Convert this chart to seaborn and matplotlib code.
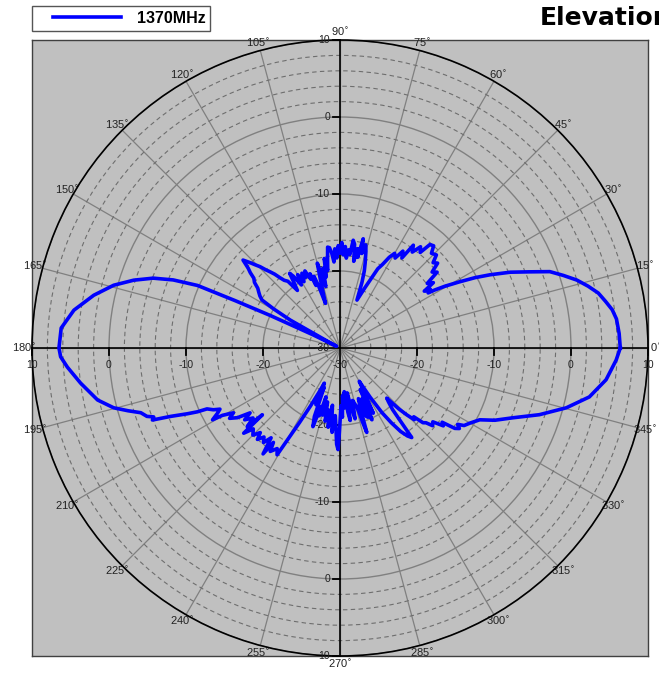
import numpy as np
import pandas as pd
import matplotlib.pyplot as plt
import seaborn as sns
from matplotlib.ticker import MultipleLocator
from matplotlib.legend_handler import HandlerLine2D

# Diagrama de radiação (elevação) - 1370 MHz
angulos = [0, 3, 6, 8, 10, 12, 14, 16, 18, 20, 22, 24, 26, 27.5, 29, 30.5, 31.5, 32,
           33, 34, 35, 36.5, 38, 39.5, 41, 42.5, 44, 46, 47.5, 49, 50, 51.5, 53, 54.5,
           55.5, 57, 58.5, 60, 61.5, 63, 64.5, 66, 67.5, 69, 70.5, 71.5, 72.5, 73.5, 75,
           76, 77, 78, 79, 80, 81, 82, 83, 84, 85, 86, 87, 88, 89, 90, 91, 92, 93, 94,
           95, 96, 97, 98, 99, 100, 101, 102, 103, 104, 105, 106, 107, 108, 109, 110,
           111, 112, 113, 114.5, 116, 117, 118.5, 120, 121.5, 123, 124, 125, 126.5, 128,
           129.5, 130.5, 131.5, 132.5, 133.5, 134.5, 135.5, 136.5, 137.8, 139, 140, 141,
           142.5, 144, 145.5, 147, 148.4, 149.5, 150.7, 152, 153, 154, 155, 155.7, 156.3,
           157.8, 159.5, 161.8, 164.5, 167.9, 171.9, 175.9, 180, 181.8, 184, 187.7, 192.1,
           194.8, 196.5, 198, 199.5, 200.3, 201, 202, 202.7, 203.3, 204.1, 204.6, 206,
           207, 208, 209.4, 209.8, 211.3, 212.5, 214.2, 215.8, 217, 218.8, 220.3, 220.7,
           221.5, 223, 225, 226.7, 227.9, 229.5, 231, 232.5, 234, 234.8, 236, 238, 239.5,
           240.3, 241.5, 243, 244.5, 246, 247, 248, 249.5, 251, 252, 253, 254, 255.5, 257,
           258.5, 260, 261.5, 262.5, 263.5, 264.6, 266, 267, 268, 268.9, 269.5, 270, 271,
           272, 273, 274, 275.5, 277, 278, 279, 280.5, 282, 283.5, 285, 286, 287, 287.6,
           288.5, 290, 291, 292, 293, 294, 295, 296, 297, 298.5, 300, 301.5, 303, 304.5,
           306, 307.5, 308.7, 309.5, 310.5, 312, 313, 314, 315, 316, 317, 318, 319, 320,
           321.5, 323, 324, 325, 326, 327, 328, 330, 332.8, 335, 338, 341.5, 345.2, 348.9,
           353.2, 357.5, 360]
ganho_db = [6.4, 6.3, 6.1, 5.7, 5.0, 4.3, 3.2, 2.0, 0.5, -1.0, -3.6, -5.8, -8.3, -10.2,
            -12.3, -14.2, -15.6, -16.5,
            -16.0, -16.8, -15.2, -15.9, -14.0, -14.5, -13.2, -13.6, -12.6, -12.9, -12.0,
            -12.2, -13.8, -13.2, -14.4, -13.6,
            -15.8, -15.0, -16.3, -15.8, -16.6, -17.8, -18.6, -20.3, -21.5, -22.6, -23.4,
            -21.0, -19.5, -18.5, -17.0,
            -16.2, -17.4, -15.5, -18.0, -16.9, -18.6, -16.4, -15.9, -17.8, -17.2, -18.3,
            -16.8, -17.9, -16.3, -17.7, -16.7, -18.3, -17.1, -18.8,
            -17.6, -16.9, -16.8, -18.4, -19.8, -18.2, -20.6, -19.4, -21.8, -20.2, -18.6,
            -20.8, -22.6, -23.9, -21.5, -20.1,
            -21.3, -19.6, -20.3, -19.0, -19.8, -19.1, -20.2, -19.0, -20.4, -18.9, -18.3,
            -19.5, -20.7, -19.0,
            -18.6, -18.0, -17.2, -16.6, -16.0, -15.2, -14.6, -13.9, -13.0, -14.2, -14.8,
            -15.6,
            -16.0, -16.8, -17.2, -17.6, -18.1, -20.0, -22.6, -28.5, -29.5, -26.0, -20.0,
            -15.0, -9.8,
            -6.6, -4.1, -1.8, 0.5, 2.7, 4.9, 6.3, 6.5, 6.3, 5.5, 4.0, 2.2,
            0.4, -1.3, -2.8, -3.4, -4.2, -3.9, -6.3, -7.5, -8.4, -9.7, -11.0, -11.7,
            -12.5, -12.0, -11.0, -12.4, -13.8, -13.0, -13.9, -15.6, -14.5, -15.5, -14.2,
            -16.7,
            -13.3, -14.6, -14.0, -14.9, -14.0, -14.8, -14.2, -15.3, -13.0, -15.0, -13.8,
            -14.6, -13.9,
            -16.5, -19.0, -21.5, -23.5, -25.0, -22.0, -24.5, -20.5, -19.2, -22.0, -20.8,
            -23.4, -21.0, -22.8,
            -20.3, -21.8, -19.6, -22.5, -20.7, -19.0, -21.2, -19.8, -17.5, -16.8, -18.8,
            -20.3, -22.5,
            -21.0, -23.8, -22.2, -24.3, -21.6, -20.5, -24.1, -22.4, -20.6, -23.0, -22.4,
            -22.1, -19.8, -18.5,
            -21.5, -23.0, -20.5, -20.3, -22.8, -19.8, -21.6, -24.0, -20.5, -23.0, -25.0,
            -22.5, -20.0, -18.2,
            -16.6, -15.6, -15.1, -17.5, -19.5, -20.6, -21.1, -19.0, -17.7, -16.6, -16.9,
            -15.5, -15.2, -14.3,
            -14.6, -13.2, -13.6, -11.8, -11.3, -11.8, -11.0, -10.5, -9.6, -7.8, -5.8,
            -2.7, 0.4, 3.0,
            4.8, 5.9, 6.4]

angulos_grade = list(range(0, 360, 15))
rotulos_grade = [f'{a}$^{{\\circ}}$' for a in angulos_grade]
# rotulos dos eixos (distancia ao centro -> valor em dB)
pos_eixo = [-40, -30, -20, -10, 0, 10, 20, 30, 40]
rotulos_eixo = ['10', '0', '-10', '-20', '-30', '-20', '-10', '0', '10']

df = pd.DataFrame({'theta': np.deg2rad(angulos), 'ganho': ganho_db})

plt.rcParams['font.family'] = ['Liberation Sans', 'DejaVu Sans']

W, H = 659, 677
fig = plt.figure(figsize=(W / 100, H / 100), dpi=100)
rect = [32 / W, 21 / H, 616 / W, 616 / H]

# fundo cinza quadrado
bg = fig.add_axes(rect)
bg.set_facecolor('#c0c0c0')
bg.set_xticks([])
bg.set_yticks([])
for s in bg.spines.values():
    s.set_color('#404040')
    s.set_linewidth(1.0)
bg.set_xlim(-40, 40)
bg.set_ylim(-40, 40)

ax = fig.add_axes(rect, projection='polar')
ax.set_facecolor('none')

sns.lineplot(data=df, x='theta', y='ganho', ax=ax, sort=False, estimator=None,
             color='#0000ff', linewidth=2.6, label='1370MHz', zorder=5)
ax.get_legend().remove()
linha = ax.get_lines()[0]

# eixos horizontal e vertical
for a in [0, 90, 180, 270]:
    ax.plot([np.deg2rad(a)] * 2, [-30, 10], color='black', lw=1.2, zorder=3)

ax.set_thetagrids(angulos_grade, rotulos_grade, fontsize=8, color='#222222')
ax.tick_params(axis='x', pad=-5)
ax.set_yticks([-20, -10, 0, 10])
ax.set_yticklabels([])
ax.yaxis.set_minor_locator(MultipleLocator(2))
ax.xaxis.grid(True, color='#808080', lw=0.9)
ax.yaxis.grid(True, which='major', color='#808080', lw=1.0)
ax.yaxis.grid(True, which='minor', color='#6e6e6e', lw=0.8, linestyle=(0, (4, 3)))
ax.tick_params(axis='y', which='both', length=0)
ax.spines['polar'].set_color('black')
ax.spines['polar'].set_linewidth(1.2)
ax.set_xlabel('')
ax.set_ylabel('')

# marcas e rotulos dos eixos
for p, t in zip(pos_eixo, rotulos_eixo):
    if p != 0:
        ax.plot([p, p], [0, -0.95], color='black', lw=1.3, transform=bg.transData,
                clip_on=False, zorder=4)
        ax.plot([0, -0.95], [p, p], color='black', lw=1.3, transform=bg.transData,
                clip_on=False, zorder=4)
    ax.text(p, -1.5, t, transform=bg.transData, ha='center', va='top',
            fontsize=7.5, color='#222222', zorder=4)
    ax.text(-1.3, -p, t, transform=bg.transData, ha='right', va='center',
            fontsize=7.5, color='#222222', zorder=4)

ax.set_ylim(-30, 10)

fig.legend(handles=[linha], labels=['1370MHz'], loc='upper left',
           bbox_to_anchor=(32 / W, 1 - 6 / H), frameon=True, fancybox=False,
           edgecolor='#555555', framealpha=1, borderaxespad=0, borderpad=0.3,
           handlelength=5.25, handletextpad=1.0,
           handler_map={linha: HandlerLine2D(xpad=1.0)},
           prop={'weight': 'bold', 'size': 11.5, 'family': 'Liberation Sans'})

fig.text(540 / W, 1 - 18 / H, 'Elevation', fontsize=18, fontweight='bold',
         family='DejaVu Sans', ha='left', va='center')

fig.savefig('out.png', dpi=100)
